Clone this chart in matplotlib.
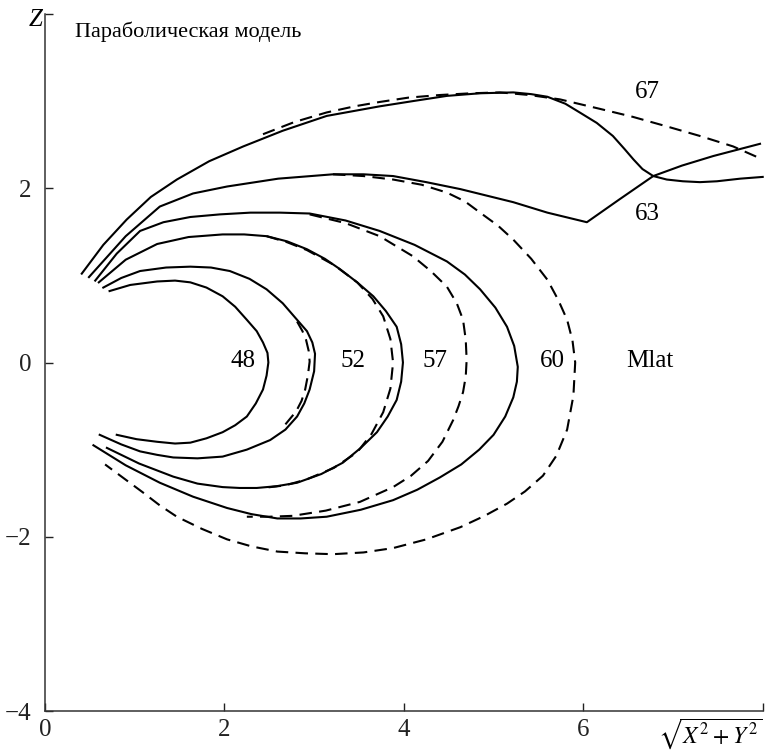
import numpy as np
import matplotlib
matplotlib.use("Agg")
import matplotlib.pyplot as plt

plt.rcParams['font.family'] = ['Liberation Serif', 'DejaVu Serif']
plt.rcParams['mathtext.fontset'] = 'stix'

# --- solid curves, x = sqrt(X^2+Y^2), z = Z ---
s48_x = [0.72, 0.95, 1.25, 1.45, 1.62, 1.80, 1.98, 2.12, 2.25, 2.36, 2.43, 2.48, 2.49, 2.47, 2.43,
         2.35, 2.25, 2.12, 1.98, 1.80, 1.62, 1.45, 1.25, 1.02, 0.80]
s48_z = [0.82, 0.89, 0.93, 0.94, 0.92, 0.86, 0.76, 0.64, 0.49, 0.36, 0.23, 0.11, 0.00, -0.15, -0.31,
         -0.47, -0.62, -0.72, -0.80, -0.87, -0.92, -0.93, -0.91, -0.88, -0.83]

s52_x = [0.65, 0.85, 1.06, 1.35, 1.62, 1.85, 2.06, 2.28, 2.47, 2.65, 2.81, 2.92, 2.98, 3.01, 3.00,
         2.95, 2.89, 2.81, 2.68, 2.51, 2.25, 1.98, 1.70, 1.43, 1.25, 1.06, 0.85, 0.61]
s52_z = [0.86, 0.97, 1.05, 1.09, 1.10, 1.09, 1.05, 0.96, 0.84, 0.68, 0.49, 0.36, 0.23, 0.10, -0.10,
         -0.31, -0.47, -0.62, -0.77, -0.89, -1.00, -1.08, -1.10, -1.09, -1.06, -1.02, -0.94, -0.83]

s57_x = [0.60, 0.90, 1.25, 1.60, 1.98, 2.22, 2.47, 2.70, 2.92, 3.12, 3.29, 3.48, 3.66, 3.80, 3.92,
         3.97, 3.99, 3.97, 3.92, 3.82, 3.70, 3.52, 3.32, 3.08, 2.81, 2.58, 2.36, 2.17, 1.98, 1.70,
         1.43, 1.05, 0.69]
s57_z = [0.92, 1.18, 1.36, 1.44, 1.47, 1.47, 1.45, 1.39, 1.30, 1.19, 1.07, 0.92, 0.76, 0.59, 0.41,
         0.21, 0.00, -0.22, -0.43, -0.62, -0.80, -0.98, -1.15, -1.28, -1.38, -1.42, -1.44, -1.44,
         -1.43, -1.39, -1.31, -1.16, -0.98]

s60_x = [0.56, 0.80, 1.06, 1.32, 1.62, 1.95, 2.29, 2.62, 2.95, 3.35, 3.73, 4.12, 4.48, 4.68, 4.85,
         5.02, 5.15, 5.23, 5.27, 5.26, 5.22, 5.13, 5.00, 4.84, 4.64, 4.40, 4.15, 3.88, 3.52, 3.14,
         2.85, 2.59, 2.30, 2.03, 1.65, 1.28, 0.90, 0.54]
s60_z = [0.94, 1.25, 1.51, 1.61, 1.67, 1.70, 1.72, 1.72, 1.71, 1.63, 1.51, 1.35, 1.16, 1.01, 0.84,
         0.63, 0.41, 0.19, -0.05, -0.22, -0.40, -0.62, -0.83, -1.00, -1.17, -1.32, -1.46, -1.58,
         -1.69, -1.77, -1.79, -1.79, -1.74, -1.67, -1.54, -1.38, -1.18, -0.95]

s63_x = [0.49, 0.90, 1.28, 1.65, 2.03, 2.60, 3.21, 3.55, 3.88, 4.25, 4.63, 5.22, 5.60, 6.04,
         6.40, 6.78, 7.10, 7.45, 7.97]
s63_z = [0.98, 1.45, 1.79, 1.94, 2.02, 2.11, 2.16, 2.16, 2.14, 2.07, 1.99, 1.84, 1.72, 1.61,
         1.87, 2.14, 2.26, 2.37, 2.51]

s67_x = [0.41, 0.65, 0.91, 1.18, 1.47, 1.83, 2.21, 2.65, 3.14, 3.73, 4.10, 4.48, 4.85, 5.22, 5.42,
         5.60, 5.80, 5.96, 6.15, 6.33, 6.46, 6.56, 6.66, 6.78, 6.93, 7.11, 7.30, 7.49, 7.75, 8.00]
s67_z = [1.02, 1.35, 1.64, 1.90, 2.10, 2.31, 2.48, 2.66, 2.83, 2.94, 3.00, 3.06, 3.09, 3.10, 3.08,
         3.05, 2.97, 2.87, 2.75, 2.60, 2.45, 2.33, 2.22, 2.14, 2.10, 2.08, 2.07, 2.08, 2.11, 2.13]

# --- dashed curves (parabolic model) ---
d52_x = [2.81, 2.87, 2.91, 2.94, 2.95, 2.93, 2.90, 2.86, 2.80, 2.68]
d52_z = [0.47, 0.36, 0.26, 0.13, 0.01, -0.15, -0.31, -0.44, -0.56, -0.71]

d57_x = [2.47, 2.70, 2.92, 3.22, 3.48, 3.65, 3.77, 3.85, 3.88, 3.85, 3.77, 3.64, 3.48, 3.22, 2.92,
         2.68, 2.43]
d57_z = [1.45, 1.38, 1.29, 1.12, 0.92, 0.73, 0.53, 0.27, 0.00, -0.30, -0.57, -0.82, -1.03, -1.21,
         -1.34, -1.41, -1.44]

d60_x = [2.95, 3.35, 3.73, 4.10, 4.30, 4.48, 4.59, 4.66, 4.69, 4.70, 4.69, 4.66, 4.61, 4.55, 4.43,
         4.27, 4.08, 3.88, 3.51, 3.13, 2.76, 2.50, 2.25]
d60_z = [1.70, 1.60, 1.45, 1.22, 1.05, 0.87, 0.68, 0.49, 0.26, 0.03, -0.16, -0.34, -0.50, -0.66,
         -0.91, -1.13, -1.30, -1.43, -1.60, -1.70, -1.76, -1.77, -1.77]

d63_x = [3.21, 3.55, 3.88, 4.20, 4.48, 4.68, 4.85, 5.05, 5.22, 5.42, 5.60, 5.72, 5.82, 5.88, 5.91,
         5.89, 5.82, 5.70, 5.55, 5.35, 5.15, 4.90, 4.63, 4.25, 3.88, 3.55, 3.21, 2.90, 2.59, 2.30,
         2.03, 1.75, 1.47, 1.28, 1.09, 0.88, 0.67]
d63_z = [2.16, 2.14, 2.10, 2.04, 1.95, 1.85, 1.72, 1.57, 1.41, 1.19, 0.95, 0.72, 0.49, 0.25, 0.00,
         -0.38, -0.77, -1.07, -1.30, -1.48, -1.62, -1.76, -1.89, -2.03, -2.13, -2.18, -2.20, -2.19,
         -2.17, -2.11, -2.03, -1.91, -1.77, -1.64, -1.49, -1.33, -1.17]

d67_x = [2.43, 2.78, 3.14, 3.45, 3.73, 4.05, 4.40, 4.75, 5.07, 5.40, 5.74, 6.19, 6.55, 6.93, 7.30,
         7.67, 8.00]
d67_z = [2.62, 2.76, 2.87, 2.94, 2.99, 3.04, 3.07, 3.09, 3.10, 3.07, 3.02, 2.91, 2.82, 2.71, 2.60,
         2.48, 2.33]

# curve labels
lbl_text = ['48', '52', '57', '60', 'Mlat', '67', '63']
lbl_x = [2.21, 3.43, 4.35, 5.66, 6.74, 6.71, 6.71]
lbl_z = [0.02, 0.02, 0.02, 0.02, 0.02, 3.10, 1.70]

x_ticks = [0, 2, 4, 6, 8]
x_tick_labels = ['0', '2', '4', '6', '']
z_ticks = [-4, -2, 0, 2, 4]
z_tick_labels = ['\u22124', '\u22122', '0', '2', '']

fig = plt.figure(figsize=(7.65, 7.56), dpi=100)
ax = fig.add_axes([0.0588, 0.0595, 0.9382, 0.922])

lw = 1.5
solid = [(s48_x, s48_z), (s52_x, s52_z), (s57_x, s57_z), (s60_x, s60_z), (s63_x, s63_z), (s67_x, s67_z)]
dashed = [(d52_x, d52_z), (d57_x, d57_z), (d60_x, d60_z), (d63_x, d63_z), (d67_x, d67_z)]
for xs, zs in solid:
    ax.plot(xs, zs, color='black', lw=lw, solid_joinstyle='round', clip_on=False)
for xs, zs in dashed:
    ax.plot(xs, zs, color='black', lw=lw, ls=(0, (6, 3.5)), clip_on=False)

for t, x, z in zip(lbl_text, lbl_x, lbl_z):
    ax.text(x, z, t, fontsize=18, ha='center', va='center')

ax.text(0.33, 3.80, 'Параболическая модель', fontsize=16, ha='left', va='center')

ax.set_xlim(0, 8)
ax.set_ylim(-4, 4)
ax.set_xticks(x_ticks)
ax.set_xticklabels(x_tick_labels)
ax.set_yticks(z_ticks)
ax.set_yticklabels(z_tick_labels)
ax.tick_params(direction='in', length=6, width=1.0, labelsize=18, colors='#222222')
ax.tick_params(axis='y', pad=10)
ax.tick_params(axis='x', pad=6)

for side in ['top', 'right']:
    ax.spines[side].set_visible(False)
for side in ['left', 'bottom']:
    ax.spines[side].set_linewidth(1.1)
    ax.spines[side].set_color('#333333')

ax.text(-0.004, 0.992, 'Z', transform=ax.transAxes, fontsize=18, style='italic',
        ha='right', va='center')
ax.text(1.0, -0.008, r'$\sqrt{X^2 + Y^2}$', transform=ax.transAxes, fontsize=17,
        ha='right', va='top')

fig.savefig('out.png', dpi=100)
